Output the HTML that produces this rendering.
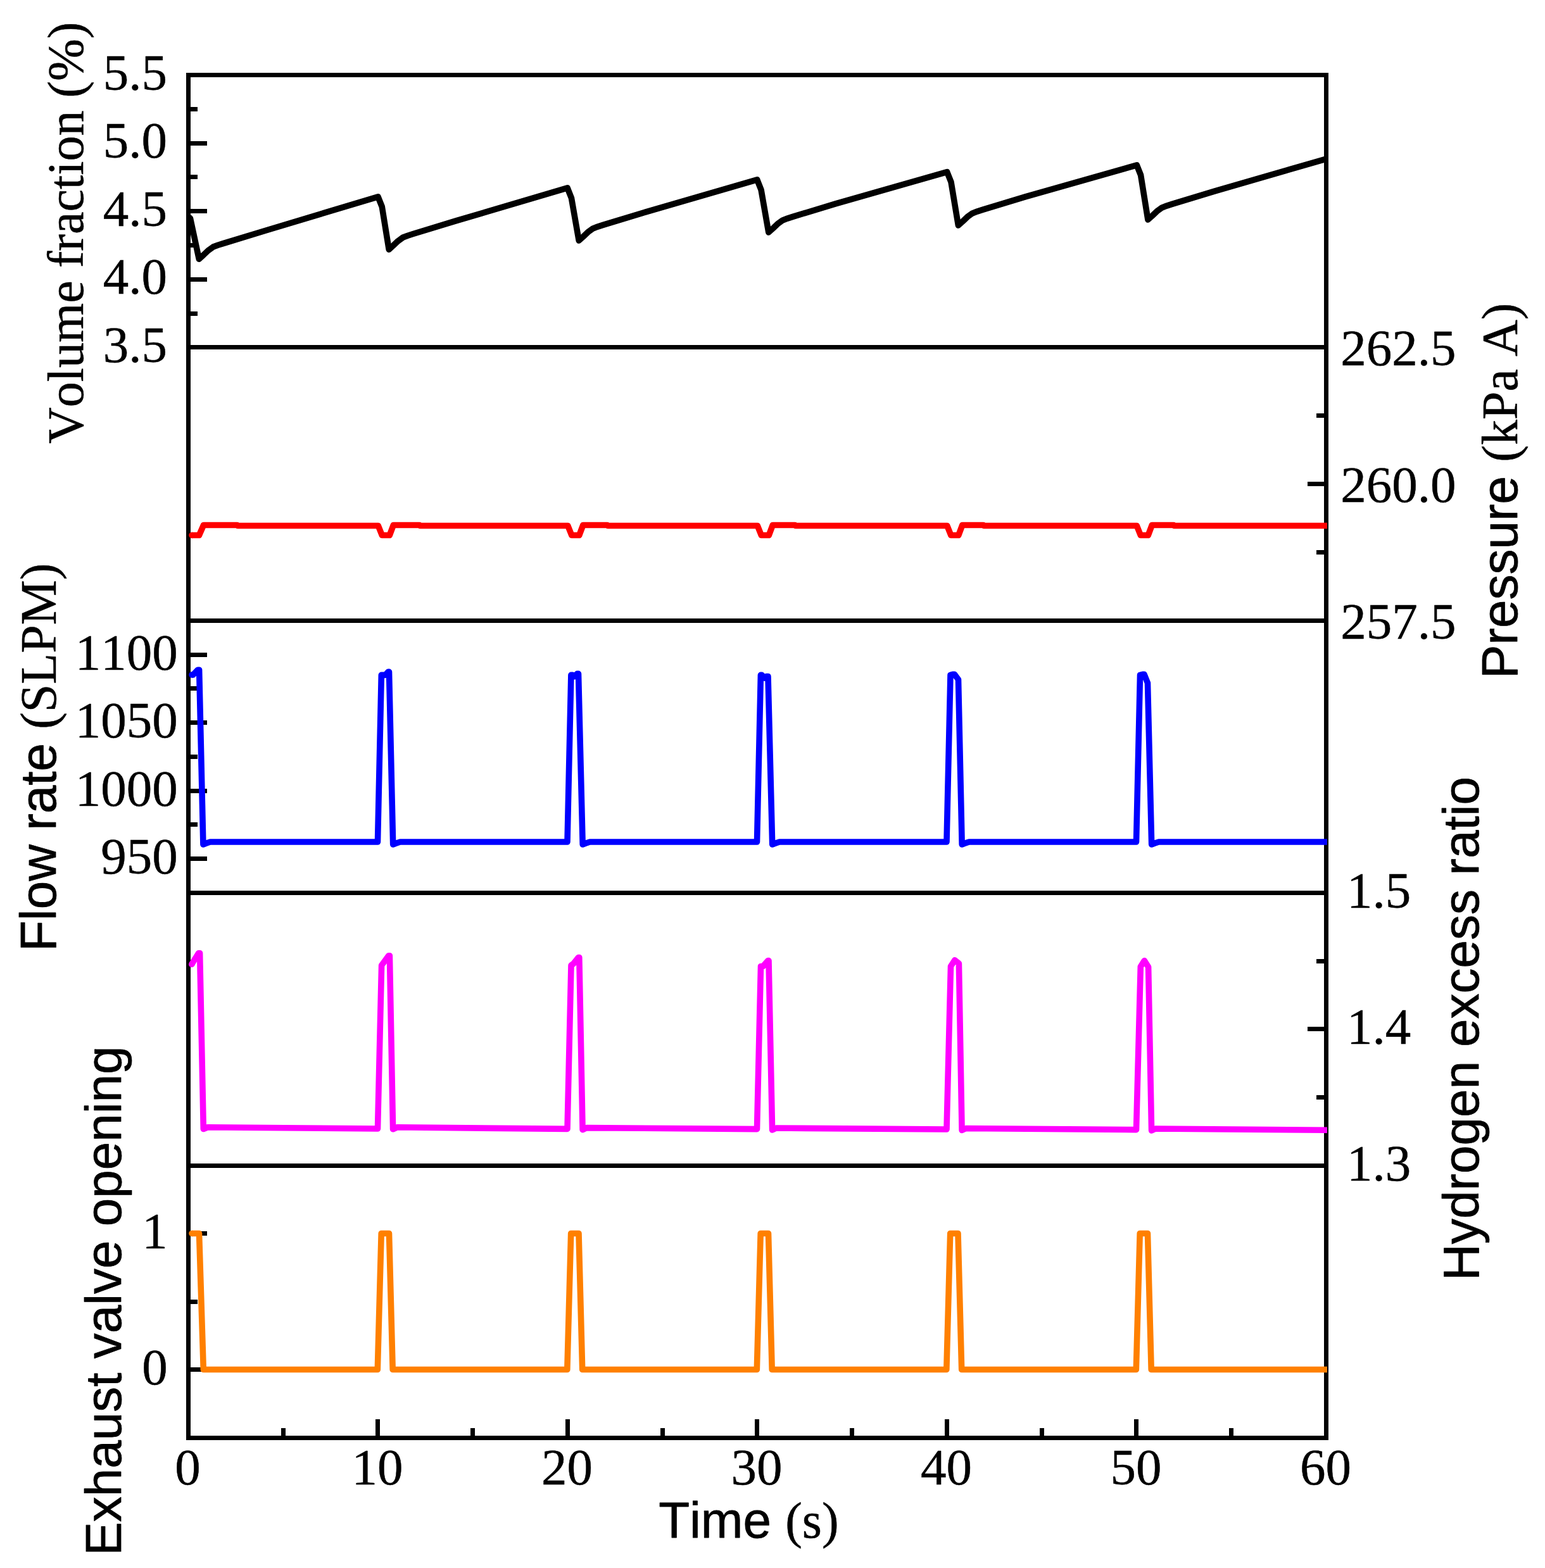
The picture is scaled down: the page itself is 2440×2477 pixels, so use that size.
<!DOCTYPE html>
<html lang="en">
<head>
<meta charset="utf-8">
<title>Purge cycle time series</title>
<style>
html,body{margin:0;padding:0;background:#fff;}
body{width:2440px;height:2477px;}
svg{display:block;}
text{font-kerning:none;font-variant-ligatures:none;}
</style>
</head>
<body>
<svg width="2440" height="2477" viewBox="0 0 2440 2477">
<rect width="2440" height="2477" fill="#fff"/>
<g fill="none" stroke="#000" stroke-width="7" shape-rendering="crispEdges">
<rect x="297.5" y="118.5" width="1797" height="2153"/>
<path d="M297.5 548.5H2094.5M297.5 980.5H2094.5M297.5 1410.5H2094.5M297.5 1841.5H2094.5M297.5 441.5h29.5M297.5 333.5h29.5M297.5 226.5h29.5M297.5 495.5h14.5M297.5 387.5h14.5M297.5 279.5h14.5M297.5 172.5h14.5M2094.5 980.5h-29.5M2094.5 764.5h-29.5M2094.5 548.5h-29.5M2094.5 872.5h-15.5M2094.5 656.5h-15.5M297.5 1356.5h29.5M297.5 1249.5h29.5M297.5 1141.5h29.5M297.5 1034.5h29.5M297.5 1302.5h14.5M297.5 1195.5h14.5M297.5 1087.5h14.5M2094.5 1841.5h-29.5M2094.5 1625.5h-29.5M2094.5 1410.5h-29.5M2094.5 1733.5h-15.5M2094.5 1518.5h-15.5M297.5 2163.5h29.5M297.5 1948.5h29.5M297.5 2056.5h14.5M596.5 2271.5v-29.5M896.5 2271.5v-29.5M1195.5 2271.5v-29.5M1495.5 2271.5v-29.5M1794.5 2271.5v-29.5M447.5 2271.5v-15.5M746.5 2271.5v-15.5M1046.5 2271.5v-15.5M1345.5 2271.5v-15.5M1645.5 2271.5v-15.5M1944.5 2271.5v-15.5"/>
</g>
<g fill="none" stroke-width="9.6" stroke-linejoin="round" stroke-linecap="butt">
<path stroke="#000" d="M297.5 342.5L300.5 345L314.3 409.2L321.3 402.9L328.6 395.9L336.6 390.1L344.1 387.3L352.5 384.6L420.1 364L597 310.85L603.3 326.65L614.2 394.1L621.2 387.8L628.5 380.8L636.5 375L644 372.2L652.4 369.5L720 348.9L896.1 296.9L902.4 312.7L914.2 380L921.2 373.7L928.5 366.7L936.5 360.9L944 358.1L952.4 355.4L1020 334.8L1195.7 283.9L1202 299.7L1213.8 367L1220.8 360.7L1228.1 353.7L1236.1 347.9L1243.6 345.1L1252 342.4L1319.6 321.8L1495.7 271.7L1502 287.5L1513.4 356L1520.4 349.7L1527.7 342.7L1535.7 336.9L1543.2 334.1L1551.6 331.4L1619.2 310.8L1795.3 260.85L1801.6 276.65L1812.9 347L1819.9 340.7L1827.2 333.7L1835.2 327.9L1842.7 325.1L1851.1 322.4L1918.7 301.8L2096 250.6"/>
<path stroke="#f00" d="M303 845.5L314.5 845.5L321.5 829.5L374.5 829.5L375.5 830.5L597.3 830.5L603.3 845.5L615.3 845.5L621.3 829.5L662.5 829.5L663.5 830.5L896.8 830.5L902.8 845.5L914.8 845.5L920.8 829.5L959 829.5L960 830.5L1196.3 830.5L1202.3 845.5L1214.3 845.5L1220.3 829.5L1255.5 829.5L1256.5 830.5L1495.8 830.5L1501.8 845.5L1513.8 845.5L1519.8 829.5L1553 829.5L1554 830.5L1795.3 830.5L1801.3 845.5L1813.3 845.5L1819.3 829.5L1853.5 829.5L1854.5 830.5L2096 830.5"/>
<path stroke="#00f" d="M303 1066L305 1066L312.3 1058.2L314.6 1058.2L320.9 1334L326 1332L332 1330L596.5 1330L602.3 1066.4L608.5 1066.4L613 1061.4L614.5 1061.4L620.7 1334L626 1332L632 1330L896 1330L901.9 1066.4L904.5 1066.4L907.5 1068.5L911.5 1064.4L913.5 1064.4L920.2 1334L925.5 1332L931.5 1330L1195.5 1330L1201.4 1066.4L1203 1066.4L1207.5 1071L1210.5 1068.5L1213 1068.5L1219.7 1334L1225 1332L1231 1330L1495 1330L1501 1066.4L1504.5 1065.4L1507.5 1065.4L1513.5 1073.5L1519.2 1334L1524.5 1332L1530.5 1330L1794.5 1330L1800.5 1066.4L1804.5 1065.4L1807 1065.4L1812.5 1079L1818.7 1334L1824 1332L1830 1330L2096 1330"/>
<path stroke="#f0f" d="M302.8 1523.3L313.6 1505.8L315.6 1505.8L321.3 1783.5L328 1780.7L596.5 1783L602.6 1525L613.7 1509.8L615.4 1509.8L620.6 1783.8L627 1780.8L896 1783.4L902 1525L905.5 1522.5L913.5 1512.5L914.8 1512.5L920.1 1784.6L926.5 1781.6L1195.5 1783.6L1201.5 1526.5L1205 1526.5L1212.8 1517.6L1214 1517.6L1219.6 1785L1226 1782L1495 1784L1501.5 1526.5L1507.8 1516.8L1514.4 1522L1519.1 1785.5L1525.5 1782.5L1794.5 1784.6L1801.3 1527L1807.3 1517.6L1813.6 1527.5L1818.6 1786L1825 1783L2096 1785.3"/>
<path stroke="#ff8000" d="M303 1948.5L314.5 1948.5L321.3 2163.5L596.3 2163.5L602.2 1948.5L614.5 1948.5L620.2 2163.5L895.8 2163.5L901.7 1948.5L914 1948.5L919.7 2163.5L1195.3 2163.5L1201.2 1948.5L1213.5 1948.5L1219.2 2163.5L1494.8 2163.5L1500.7 1948.5L1513 1948.5L1518.7 2163.5L1794.3 2163.5L1800.2 1948.5L1812.5 1948.5L1818.2 2163.5L2096 2163.5"/>
<circle cx="303" cy="845.5" r="4.8" fill="#f00" stroke="none"/>
<circle cx="303" cy="1066" r="4.8" fill="#00f" stroke="none"/>
<circle cx="302.8" cy="1523.3" r="4.8" fill="#f0f" stroke="none"/>
<circle cx="303" cy="1948.5" r="4.8" fill="#ff8000" stroke="none"/>
</g>
<g font-family='"Liberation Serif", serif' font-size="81" fill="#000" stroke="#000" stroke-width="0.5" stroke-linejoin="round">
<text x="264" y="571.9" text-anchor="end">3.5</text>
<text x="264" y="464.4" text-anchor="end">4.0</text>
<text x="264" y="356.9" text-anchor="end">4.5</text>
<text x="264" y="249.4" text-anchor="end">5.0</text>
<text x="264" y="141.9" text-anchor="end">5.5</text>
<text x="2117.3" y="1008.9" text-anchor="start">257.5</text>
<text x="2117.3" y="792.9" text-anchor="start">260.0</text>
<text x="2117.3" y="576.9" text-anchor="start">262.5</text>
<text x="280.8" y="1380.15" text-anchor="end">950</text>
<text x="280.8" y="1272.65" text-anchor="end">1000</text>
<text x="280.8" y="1165.15" text-anchor="end">1050</text>
<text x="280.8" y="1057.65" text-anchor="end">1100</text>
<text x="2127" y="1864.9" text-anchor="start">1.3</text>
<text x="2127" y="1649.4" text-anchor="start">1.4</text>
<text x="2127" y="1433.9" text-anchor="start">1.5</text>
<text x="264.8" y="2187.4" text-anchor="end">0</text>
<text x="264.8" y="1972.4" text-anchor="end">1</text>
<text x="296.5" y="2345.2" text-anchor="middle">0</text>
<text x="596" y="2345.2" text-anchor="middle">10</text>
<text x="895.5" y="2345.2" text-anchor="middle">20</text>
<text x="1195" y="2345.2" text-anchor="middle">30</text>
<text x="1494.5" y="2345.2" text-anchor="middle">40</text>
<text x="1794" y="2345.2" text-anchor="middle">50</text>
<text x="2093.5" y="2345.2" text-anchor="middle">60</text>
</g>
<text transform="translate(130.8 701) rotate(-90)" font-size="80" fill="#000" xml:space="preserve"><tspan font-family='"Liberation Serif", serif' stroke="#000" stroke-width="0.5" stroke-linejoin="round">Volume fraction (%)</tspan></text>
<text transform="translate(88 1503) rotate(-90)" font-size="80" fill="#000" xml:space="preserve"><tspan font-family='"Liberation Sans", sans-serif' stroke="#000" stroke-width="0.8" stroke-linejoin="round">Flow rate </tspan><tspan font-family='"Liberation Serif", serif' stroke="#000" stroke-width="0.5" stroke-linejoin="round">(SLPM)</tspan></text>
<text transform="translate(191 2457.5) rotate(-90)" font-size="80" fill="#000" xml:space="preserve"><tspan font-family='"Liberation Sans", sans-serif' stroke="#000" stroke-width="0.8" stroke-linejoin="round">Exhaust valve opening</tspan></text>
<text transform="translate(2396 1072) rotate(-90)" font-size="80" fill="#000" xml:space="preserve"><tspan font-family='"Liberation Sans", sans-serif' stroke="#000" stroke-width="0.8" stroke-linejoin="round">Pressure </tspan><tspan font-family='"Liberation Serif", serif' stroke="#000" stroke-width="0.5" stroke-linejoin="round">(kPa A)</tspan></text>
<text transform="translate(2334.5 2023) rotate(-90)" font-size="80" fill="#000" xml:space="preserve"><tspan font-family='"Liberation Sans", sans-serif' stroke="#000" stroke-width="0.8" stroke-linejoin="round">Hydrogen excess ratio</tspan></text>
<text x="1040.2" y="2428.7" font-size="80" fill="#000" xml:space="preserve"><tspan font-family='"Liberation Sans", sans-serif' stroke="#000" stroke-width="0.8" stroke-linejoin="round">Time </tspan><tspan font-family='"Liberation Serif", serif' stroke="#000" stroke-width="0.5" stroke-linejoin="round">(s)</tspan></text>
</svg>
</body>
</html>
